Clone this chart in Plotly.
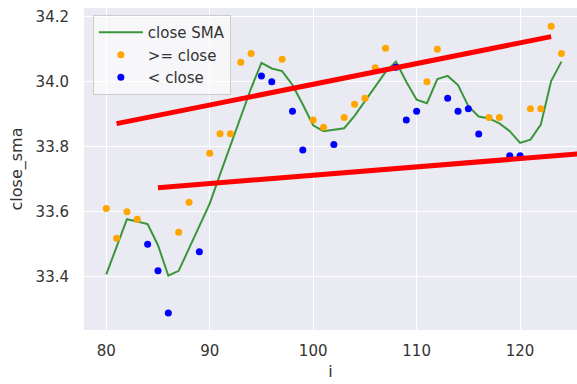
import plotly.graph_objects as go

# Index of each observation
idx = list(range(80, 125))

# Closing values
close = [
    33.610, 33.518, 33.600, 33.577, 33.500, 33.418, 33.288, 33.537, 33.629, 33.477,
    33.780, 33.840, 33.840, 34.060, 34.087, 34.018, 34.000, 34.069, 33.909, 33.790,
    33.882, 33.860, 33.807, 33.890, 33.931, 33.949, 34.043, 34.103, 34.045, 33.882,
    33.909, 34.000, 34.100, 33.949, 33.909, 33.917, 33.839, 33.890, 33.890, 33.772,
    33.772, 33.917, 33.917, 34.171, 34.087,
]

# Simple moving average of the close
close_sma = [
    33.407, 33.490, 33.577, 33.570, 33.562, 33.497, 33.403, 33.418, 33.487, 33.554,
    33.625, 33.715, 33.805, 33.895, 33.980, 34.058, 34.041, 34.033, 33.990, 33.930,
    33.866, 33.848, 33.852, 33.857, 33.895, 33.940, 33.985, 34.030, 34.062, 34.000,
    33.945, 33.934, 34.008, 34.018, 33.990, 33.925, 33.893, 33.887, 33.872, 33.848,
    33.812, 33.822, 33.868, 34.002, 34.062,
]

# Trend lines (endpoints)
upper_x = [81, 123]
upper_y = [33.871, 34.139]
lower_x = [85, 126]
lower_y = [33.674, 33.779]

x_ticks = [80, 90, 100, 110, 120]
y_ticks = [33.4, 33.6, 33.8, 34.0, 34.2]

above = [(i, c) for i, c, s in zip(idx, close, close_sma) if c >= s]
below = [(i, c) for i, c, s in zip(idx, close, close_sma) if c < s]

FONT = "DejaVu Sans"
TXT = "#333333"

fig = go.Figure()
fig.add_trace(go.Scatter(
    x=idx, y=close_sma, mode="lines", name="close SMA",
    line=dict(color="#3a963a", width=2),
))
fig.add_trace(go.Scatter(
    x=[p[0] for p in above], y=[p[1] for p in above], mode="markers",
    name=">= close", marker=dict(color="orange", size=7),
))
fig.add_trace(go.Scatter(
    x=[p[0] for p in below], y=[p[1] for p in below], mode="markers",
    name="< close", marker=dict(color="blue", size=7),
))
for tx, ty in ((upper_x, upper_y), (lower_x, lower_y)):
    fig.add_trace(go.Scatter(
        x=tx, y=ty, mode="lines", showlegend=False,
        line=dict(color="red", width=5),
    ))

fig.update_layout(
    width=577, height=384,
    margin=dict(l=84, r=0, t=8, b=54),
    paper_bgcolor="white",
    plot_bgcolor="#EAEAF2",
    font=dict(family=FONT, size=15, color=TXT),
    showlegend=True,
    legend=dict(
        x=0.018, y=0.978, xanchor="left", yanchor="top",
        bgcolor="rgba(255,255,255,0.6)",
        bordercolor="#cccccc", borderwidth=1,
        font=dict(family=FONT, size=15, color=TXT),
        tracegroupgap=0, itemwidth=44,
    ),
    xaxis=dict(
        range=[77.85, 125.5], tickvals=x_ticks,
        showgrid=True, gridcolor="white", gridwidth=1.2,
        zeroline=False, showline=False, ticks="",
        ticklabelstandoff=10,
        title=dict(text="i", standoff=6, font=dict(size=16, color=TXT)),
    ),
    yaxis=dict(
        range=[33.236, 34.227], tickvals=y_ticks, tickformat=".1f",
        showgrid=True, gridcolor="white", gridwidth=1.2,
        zeroline=False, showline=False, ticks="",
        ticklabelstandoff=14,
        title=dict(text="close_sma", standoff=8, font=dict(size=16, color=TXT)),
    ),
)

fig.write_html("out.html")
